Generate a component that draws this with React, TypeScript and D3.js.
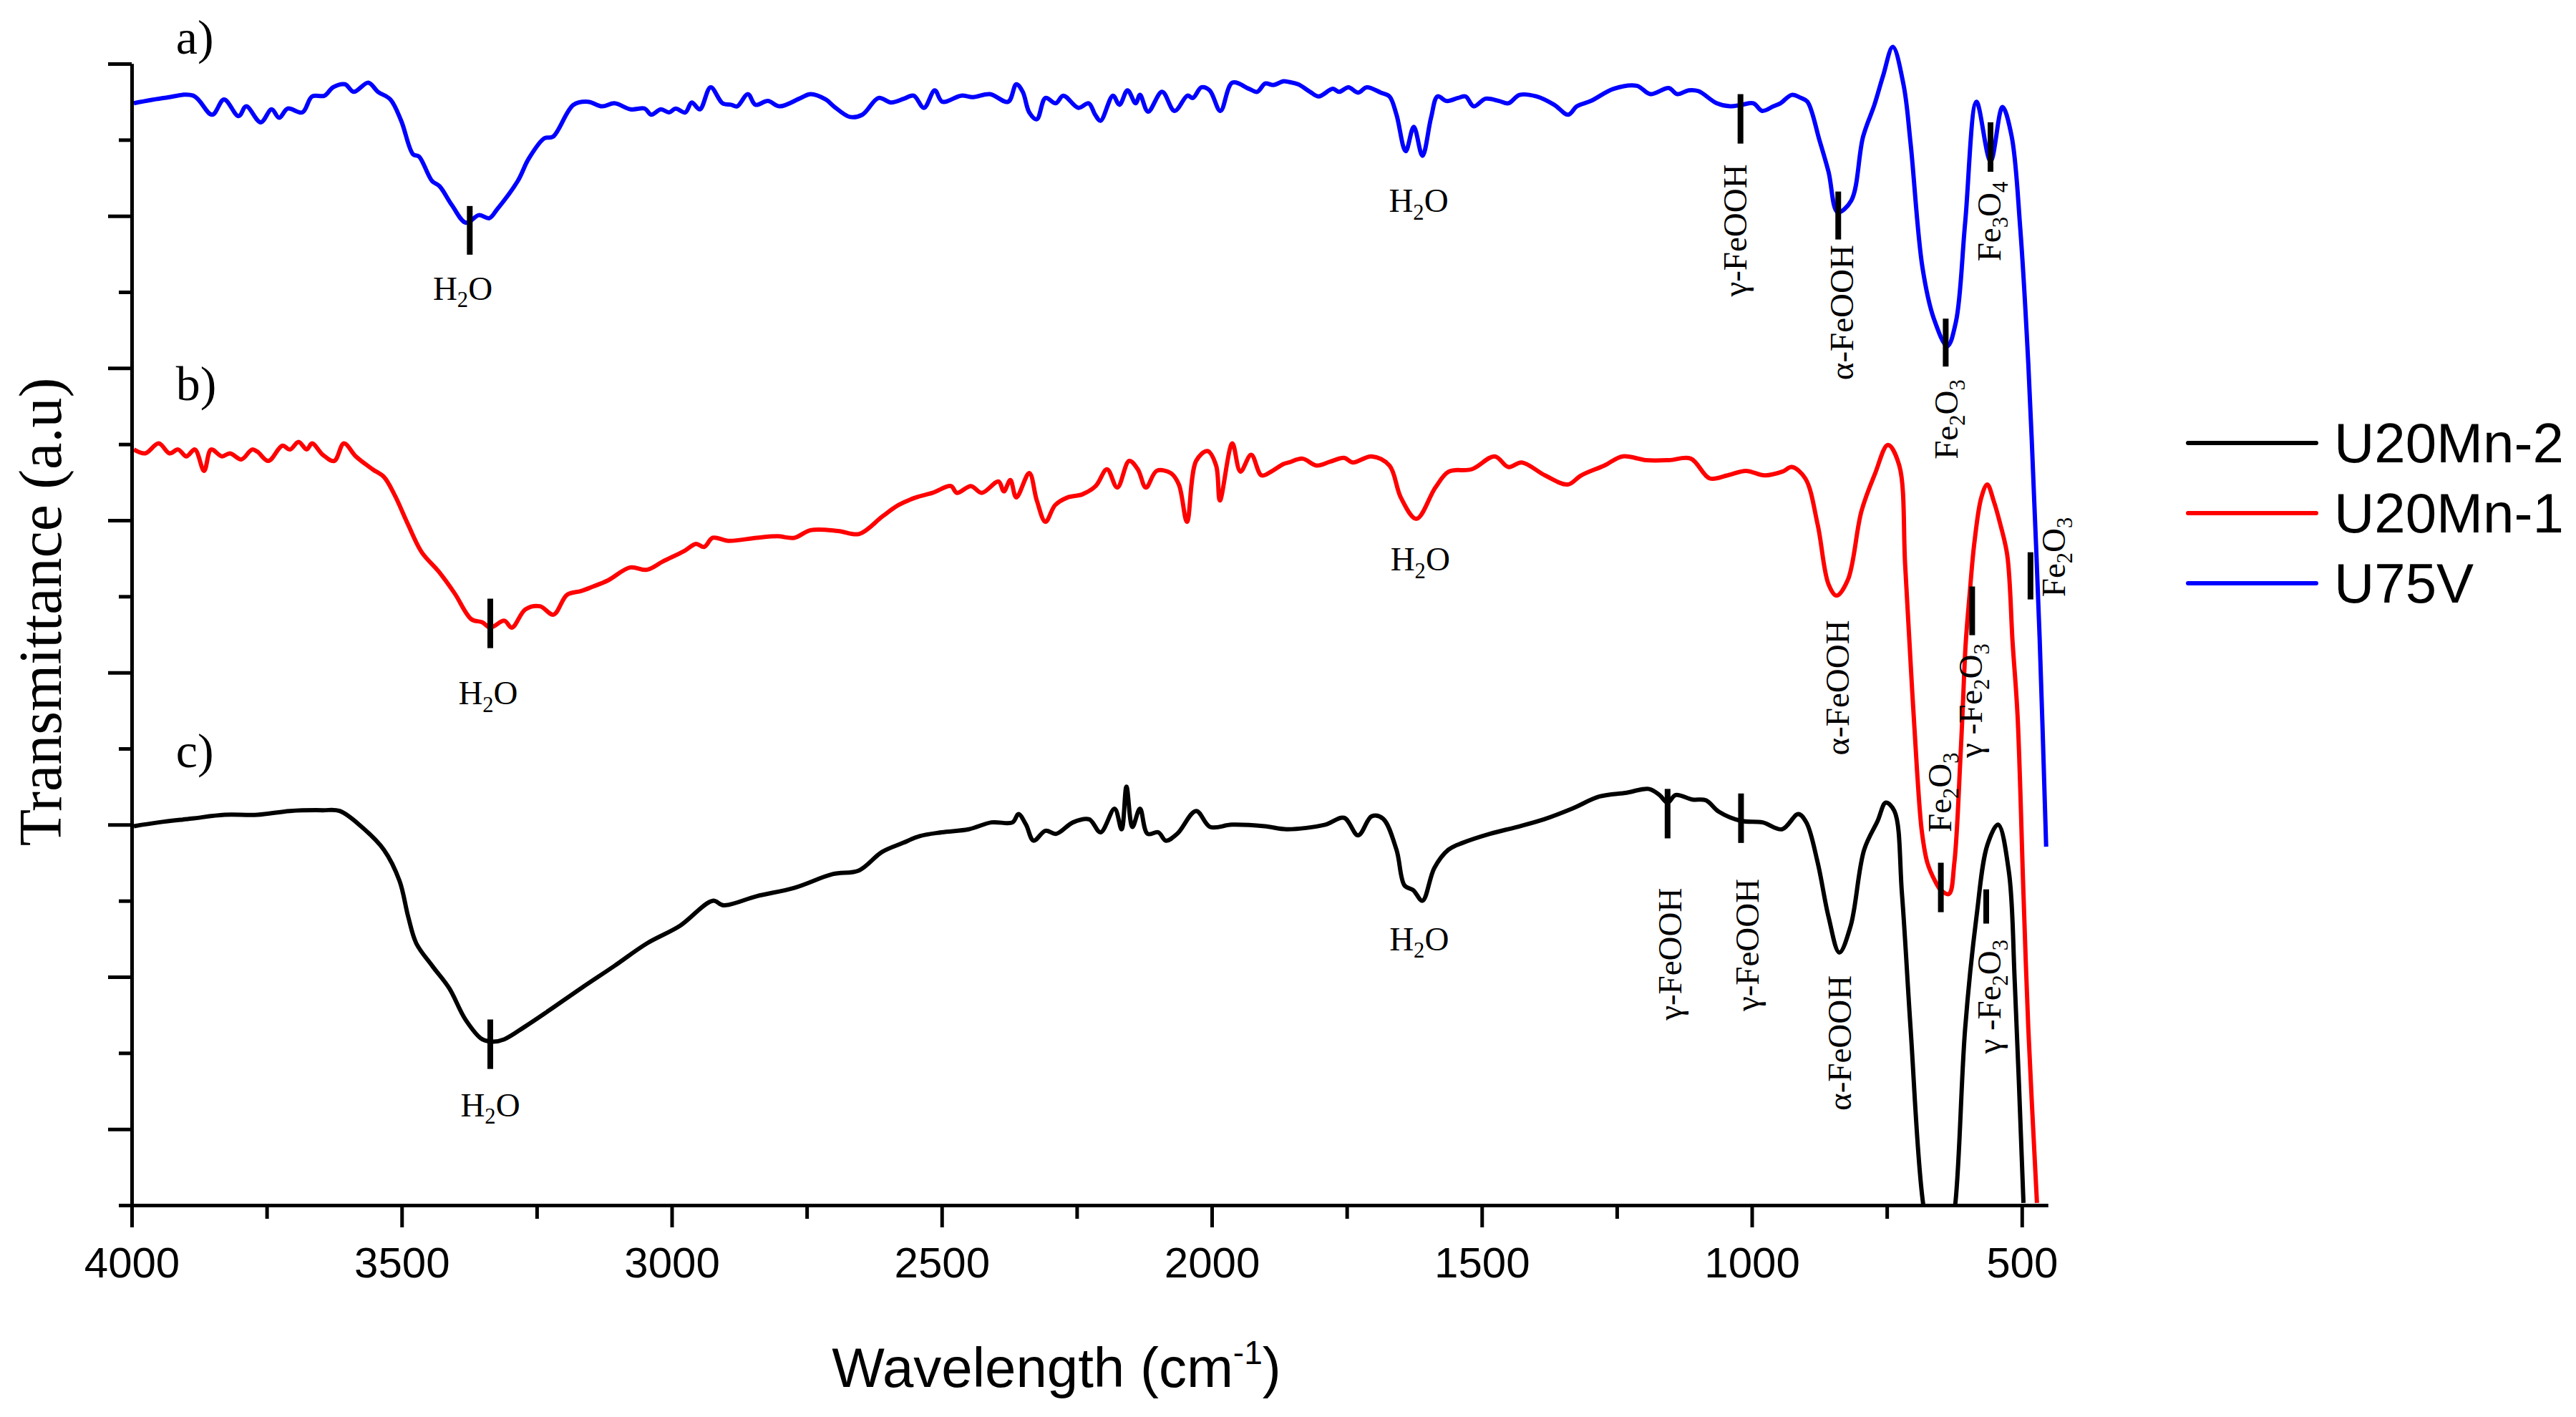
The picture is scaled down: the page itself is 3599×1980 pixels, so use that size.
import React, { useEffect, useRef } from 'react';
import * as d3 from 'd3';

// FTIR spectra, wavenumber (cm-1) vs transmittance (a.u., stacked offsets)
// a) U75V
const u75v: [number, number][] = [
  [3996, 13.48], [3939, 13.55], [3886, 13.58], [3851, 13.33], [3829, 13.53], [3802, 13.31], [3788, 13.44],
  [3761, 13.23], [3741, 13.4], [3727, 13.29], [3711, 13.41], [3684, 13.36], [3666, 13.57], [3643, 13.58],
  [3627, 13.69], [3605, 13.73], [3589, 13.63], [3562, 13.75], [3544, 13.63], [3521, 13.53], [3501, 13.25],
  [3479, 12.81], [3468, 12.78], [3444, 12.46], [3430, 12.39], [3407, 12.14], [3381, 11.91], [3357, 12.01],
  [3338, 11.97], [3324, 12.08], [3285, 12.46], [3265, 12.75], [3236, 13.02], [3220, 13.04], [3182, 13.46],
  [3155, 13.5], [3129, 13.44], [3106, 13.48], [3076, 13.4], [3050, 13.41], [3038, 13.33], [3020, 13.4],
  [3005, 13.36], [2993, 13.41], [2975, 13.36], [2963, 13.49], [2948, 13.4], [2928, 13.69], [2906, 13.48],
  [2890, 13.46], [2879, 13.44], [2859, 13.6], [2845, 13.46], [2822, 13.51], [2800, 13.44], [2761, 13.55],
  [2743, 13.6], [2715, 13.53], [2700, 13.44], [2670, 13.3], [2647, 13.33], [2617, 13.55], [2594, 13.49],
  [2570, 13.54], [2552, 13.58], [2533, 13.42], [2513, 13.65], [2499, 13.5], [2464, 13.58], [2442, 13.56],
  [2411, 13.6], [2377, 13.5], [2362, 13.73], [2350, 13.63], [2338, 13.36], [2324, 13.27], [2308, 13.55],
  [2289, 13.48], [2275, 13.58], [2247, 13.42], [2228, 13.48], [2216, 13.33], [2206, 13.25], [2183, 13.58],
  [2171, 13.46], [2156, 13.65], [2141, 13.48], [2133, 13.59], [2118, 13.37], [2092, 13.63], [2069, 13.38],
  [2045, 13.58], [2035, 13.55], [2019, 13.69], [2004, 13.65], [1984, 13.38], [1962, 13.75], [1931, 13.67],
  [1916, 13.63], [1901, 13.74], [1886, 13.72], [1867, 13.77], [1857, 13.76], [1840, 13.73], [1818, 13.63],
  [1802, 13.57], [1776, 13.67], [1764, 13.63], [1747, 13.69], [1729, 13.62], [1713, 13.69], [1687, 13.62],
  [1671, 13.57], [1658, 13.33], [1641, 12.85], [1626, 13.17], [1610, 12.79], [1594, 13.29], [1582, 13.57],
  [1565, 13.51], [1544, 13.55], [1530, 13.57], [1515, 13.44], [1493, 13.54], [1468, 13.51], [1451, 13.48],
  [1430, 13.59], [1399, 13.57], [1366, 13.46], [1340, 13.33], [1324, 13.44], [1298, 13.51], [1256, 13.67],
  [1213, 13.71], [1188, 13.6], [1154, 13.68], [1138, 13.6], [1117, 13.65], [1099, 13.64], [1065, 13.48],
  [1040, 13.44], [1019, 13.46], [997, 13.48], [981, 13.38], [960, 13.44], [947, 13.48], [926, 13.59],
  [909, 13.55], [897, 13.5], [875, 13.0], [858, 12.58], [841, 12.05], [816, 12.2], [794, 13.04],
  [773, 13.46], [757, 13.84], [739, 14.22], [719, 13.72], [706, 12.95], [684, 11.32], [663, 10.65],
  [638, 10.29], [622, 10.61], [605, 11.91], [584, 13.5], [558, 12.72], [536, 13.43], [519, 13.05],
  [503, 11.84], [488, 10.05], [477, 8.24], [467, 6.44], [455, 3.71],
];

// b) U20Mn-1
const u20mn1: [number, number][] = [
  [3996, 8.93], [3975, 8.88], [3950, 9.01], [3930, 8.88], [3914, 8.93], [3899, 8.84], [3883, 8.93],
  [3866, 8.65], [3853, 8.93], [3833, 8.84], [3818, 8.88], [3797, 8.8], [3777, 8.93], [3767, 8.9],
  [3747, 8.78], [3721, 8.98], [3707, 8.93], [3691, 9.03], [3676, 8.93], [3666, 9.01], [3646, 8.86],
  [3625, 8.78], [3607, 9.01], [3585, 8.84], [3554, 8.67], [3533, 8.57], [3513, 8.33], [3488, 7.94],
  [3463, 7.58], [3432, 7.33], [3402, 7.04], [3371, 6.7], [3351, 6.66], [3336, 6.59], [3310, 6.68],
  [3296, 6.59], [3271, 6.83], [3244, 6.87], [3219, 6.76], [3194, 7.02], [3168, 7.07], [3149, 7.12],
  [3118, 7.21], [3077, 7.38], [3046, 7.35], [3016, 7.46], [2976, 7.6], [2955, 7.69], [2940, 7.65],
  [2924, 7.77], [2895, 7.73], [2843, 7.77], [2804, 7.79], [2773, 7.77], [2743, 7.87], [2692, 7.86],
  [2653, 7.82], [2610, 8.05], [2580, 8.2], [2548, 8.3], [2517, 8.36], [2483, 8.45], [2472, 8.36],
  [2446, 8.45], [2426, 8.36], [2395, 8.51], [2385, 8.38], [2373, 8.53], [2362, 8.3], [2338, 8.62],
  [2324, 8.26], [2308, 7.98], [2290, 8.2], [2267, 8.3], [2240, 8.34], [2215, 8.45], [2194, 8.67],
  [2175, 8.43], [2153, 8.78], [2137, 8.67], [2122, 8.43], [2102, 8.65], [2076, 8.62], [2061, 8.47],
  [2046, 7.98], [2029, 8.78], [2008, 8.91], [1992, 8.72], [1985, 8.26], [1962, 9.01], [1947, 8.64],
  [1927, 8.86], [1908, 8.59], [1890, 8.64], [1867, 8.74], [1857, 8.76], [1832, 8.81], [1806, 8.72],
  [1781, 8.77], [1755, 8.82], [1739, 8.76], [1704, 8.84], [1671, 8.72], [1650, 8.3], [1621, 8.02],
  [1586, 8.43], [1561, 8.64], [1519, 8.67], [1476, 8.84], [1451, 8.7], [1426, 8.76], [1383, 8.59],
  [1341, 8.47], [1316, 8.59], [1273, 8.72], [1239, 8.84], [1196, 8.79], [1154, 8.79], [1113, 8.81],
  [1078, 8.55], [1045, 8.59], [1011, 8.65], [976, 8.59], [943, 8.64], [926, 8.7], [901, 8.55],
  [878, 7.94], [858, 7.16], [843, 7.01], [822, 7.22], [797, 8.12], [772, 8.61], [748, 8.99],
  [727, 8.72], [716, 7.4], [703, 5.75], [694, 4.7], [685, 3.9], [675, 3.5], [660, 3.25], [650, 3.14],
  [635, 3.09], [625, 3.5], [614, 4.84], [610, 5.44], [604, 6.38], [597, 7.0], [588, 7.7], [575, 8.3],
  [564, 8.47], [552, 8.25], [540, 7.95], [527, 7.54], [517, 6.38], [508, 5.44], [497, 3.09],
  [488, 1.32], [472, -0.97],
];

// c) U20Mn-2
const u20mn2: [number, number][] = [
  [3996, 3.98], [3950, 4.03], [3889, 4.08], [3828, 4.13], [3767, 4.13], [3707, 4.18], [3646, 4.19],
  [3615, 4.18], [3574, 3.97], [3533, 3.67], [3504, 3.26], [3488, 2.79], [3473, 2.44], [3443, 2.14],
  [3412, 1.85], [3382, 1.44], [3351, 1.18], [3330, 1.15], [3310, 1.18], [3271, 1.35], [3229, 1.55],
  [3168, 1.85], [3107, 2.14], [3046, 2.44], [2985, 2.67], [2924, 3.0], [2904, 2.94], [2843, 3.06],
  [2773, 3.17], [2702, 3.35], [2653, 3.4], [2611, 3.64], [2572, 3.76], [2541, 3.85], [2500, 3.9],
  [2450, 3.94], [2408, 4.03], [2369, 4.03], [2358, 4.14], [2344, 4.0], [2330, 3.79], [2308, 3.92],
  [2288, 3.88], [2257, 4.03], [2227, 4.07], [2206, 3.9], [2180, 4.21], [2167, 3.94], [2158, 4.5],
  [2147, 3.97], [2133, 4.21], [2119, 3.88], [2099, 3.9], [2085, 3.79], [2064, 3.88], [2029, 4.18],
  [2003, 3.97], [1963, 4.0], [1902, 3.98], [1861, 3.94], [1790, 4.0], [1755, 4.09], [1729, 3.86],
  [1704, 4.11], [1683, 4.08], [1658, 3.67], [1643, 3.2], [1627, 3.14], [1610, 3.0], [1588, 3.43],
  [1562, 3.67], [1536, 3.76], [1485, 3.88], [1435, 3.97], [1385, 4.07], [1333, 4.21], [1282, 4.37],
  [1232, 4.42], [1191, 4.47], [1171, 4.39], [1156, 4.29], [1141, 4.39], [1110, 4.33], [1085, 4.32],
  [1061, 4.17], [1020, 4.05], [980, 4.03], [944, 3.94], [914, 4.14], [899, 4.03], [878, 3.5],
  [858, 2.79], [838, 2.32], [817, 2.67], [792, 3.67], [767, 4.05], [752, 4.29], [736, 4.18],
  [722, 3.09], [706, 1.32], [683, -0.97], [660, -1.8], [640, -1.8], [623, -0.97], [605, 1.32],
  [584, 2.79], [564, 3.73], [544, 4.0], [524, 3.38], [513, 1.91], [497, -0.97],
];

const seriesNames = ['U20Mn-2', 'U20Mn-1', 'U75V'];
const seriesData = [u20mn2, u20mn1, u75v];
const seriesColors = ['#000000', '#ff0000', '#0000ff'];

const xMajorTicks = [4000, 3500, 3000, 2500, 2000, 1500, 1000, 500];
const xMinorTicks = [3750, 3250, 2750, 2250, 1750, 1250, 750];
const yMajorTicks = [0, 2, 4, 6, 8, 10, 12, 14];
const yMinorTicks = [-1, 1, 3, 5, 7, 9, 11, 13];

// peak markers: [wavenumber, top, bottom]
const markerBars: [number, number, number][] = [
  [3374, 12.13, 11.49], [1021, 13.6, 12.95], [840, 12.32, 11.69], [641, 10.65, 10.02],
  [558, 13.23, 12.58], [484, 7.58, 6.96],
  [3336, 6.97, 6.32], [650, 3.5, 2.85], [592, 7.13, 6.49],
  [3336, 1.44, 0.79], [1156, 4.47, 3.82], [1020, 4.41, 3.76], [566, 3.15, 2.7],
];

// horizontal band labels: [text, wavenumber, baseline]
const flatLabels: [string, number, number][] = [
  ['H2O', 3387, 10.9], ['H2O', 1617, 12.05],
  ['H2O', 3340, 5.58], ['H2O', 1614, 7.34],
  ['H2O', 3336, 0.17], ['H2O', 1616, 2.35],
];

// rotated band labels: [text, wavenumber at baseline, y, anchor]
const sideLabels: [string, number, number, string][] = [
  ['γ-FeOOH', 1010, 12.68, 'end'], ['α-FeOOH', 812, 11.62, 'end'], ['Fe2O3', 619, 9.85, 'end'],
  ['Fe3O4', 540, 12.45, 'end'], ['Fe2O3', 420, 8.04, 'end'],
  ['α-FeOOH', 820, 6.69, 'end'], ['Fe2O3', 631, 3.9, 'start'], ['γ -Fe2O3', 574, 6.38, 'end'],
  ['γ-FeOOH', 1130, 3.17, 'end'], ['γ-FeOOH', 988, 3.29, 'end'], ['α-FeOOH', 816, 2.02, 'end'],
  ['γ -Fe2O3', 540, 2.49, 'end'],
];

const panelLabels: [string, number, number][] = [
  ['a)', 3918, 14.13], ['b)', 3918, 9.58], ['c)', 3918, 4.76],
];

const SANS = 'Liberation Sans, Arial, sans-serif';
const SERIF = 'Liberation Serif, Times New Roman, serif';

// digits in chemical formulas are drawn as subscripts
function addFormula(text: any, str: string, fs: number) {
  const parts = str.split(/(\d)/).filter((s) => s.length);
  let lowered = false;
  parts.forEach((p) => {
    const t = text.append('tspan').text(p);
    if (/\d/.test(p)) {
      t.attr('font-size', fs * 0.65).attr('dy', fs * 0.22);
      lowered = true;
    } else if (lowered) {
      t.attr('dy', -fs * 0.22);
      lowered = false;
    }
  });
}

export default function App() {
  const ref = useRef<SVGSVGElement>(null);

  useEffect(() => {
    const svg = d3.select(ref.current);
    svg.selectAll('*').remove();

    const x = d3.scaleLinear().domain([4000, 452]).range([184, 2861]);
    const y = d3.scaleLinear().domain([-1, 14]).range([1684, 89]);
    const axisW = 5;

    // curves are cut off at the x axis
    svg.append('defs').append('clipPath').attr('id', 'plotClip')
      .append('rect').attr('x', 0).attr('y', 0).attr('width', 3000).attr('height', y(-1));

    const line = d3.line<[number, number]>()
      .x((d) => x(d[0]))
      .y((d) => y(d[1]))
      .curve(d3.curveCatmullRom.alpha(0.5));

    svg.append('g').attr('clip-path', 'url(#plotClip)')
      .selectAll('path')
      .data(seriesData)
      .enter()
      .append('path')
      .attr('d', (d) => line(d))
      .attr('fill', 'none')
      .attr('stroke', (d, i) => seriesColors[i])
      .attr('stroke-width', 6)
      .attr('stroke-linejoin', 'round');

    // x axis: major ticks with labels, minor ticks without
    const xAxisG = svg.append('g').attr('transform', 'translate(0,' + y(-1) + ')');
    xAxisG.call(d3.axisBottom(x).tickValues(xMajorTicks).tickSize(31).tickSizeOuter(0).tickPadding(27).tickFormat(d3.format('d')));
    xAxisG.append('g').call(d3.axisBottom(x).tickValues(xMinorTicks).tickSize(19).tickSizeOuter(0).tickFormat(() => ''));

    // y axis: no labels
    const yAxisG = svg.append('g').attr('transform', 'translate(' + x(4000) + ',0)');
    yAxisG.call(d3.axisLeft(y).tickValues(yMajorTicks).tickSize(33).tickSizeOuter(0).tickFormat(() => ''));
    yAxisG.append('g').call(d3.axisLeft(y).tickValues(yMinorTicks).tickSize(18).tickSizeOuter(0).tickFormat(() => ''));

    svg.selectAll('.domain, .tick line').attr('stroke', '#000').attr('stroke-width', axisW);
    xAxisG.selectAll('.tick text').attr('font-family', SANS).attr('font-size', 60).attr('fill', '#000');

    // peak marker bars
    svg.append('g')
      .selectAll('line')
      .data(markerBars)
      .enter()
      .append('line')
      .attr('x1', (d) => x(d[0]))
      .attr('x2', (d) => x(d[0]))
      .attr('y1', (d) => y(d[1]))
      .attr('y2', (d) => y(d[2]))
      .attr('stroke', '#000')
      .attr('stroke-width', 8);

    const annoFs = 47;
    flatLabels.forEach(([t, wn, v]) => {
      const el = svg.append('text')
        .attr('x', x(wn)).attr('y', y(v))
        .attr('text-anchor', 'middle')
        .attr('font-family', SERIF).attr('font-size', annoFs).attr('fill', '#000');
      addFormula(el, t, annoFs);
    });

    sideLabels.forEach(([t, wn, v, anchor]) => {
      const el = svg.append('text')
        .attr('transform', 'translate(' + x(wn) + ',' + y(v) + ') rotate(-90)')
        .attr('text-anchor', anchor)
        .attr('font-family', SERIF).attr('font-size', annoFs).attr('fill', '#000');
      addFormula(el, t, annoFs);
    });

    panelLabels.forEach(([t, wn, v]) => {
      svg.append('text')
        .attr('x', x(wn)).attr('y', y(v))
        .attr('font-family', SERIF).attr('font-size', 68).attr('fill', '#000')
        .text(t);
    });

    // axis titles
    svg.append('text')
      .attr('transform', 'translate(85,855) rotate(-90)')
      .attr('text-anchor', 'middle')
      .attr('font-family', SERIF).attr('font-size', 84).attr('fill', '#000')
      .text('Transmittance (a.u)');

    const xTitle = svg.append('text')
      .attr('x', 1476).attr('y', 1938)
      .attr('text-anchor', 'middle')
      .attr('font-family', SANS).attr('font-size', 78).attr('fill', '#000');
    xTitle.append('tspan').text('Wavelength (cm');
    xTitle.append('tspan').attr('font-size', 46).attr('dy', -32).text('-1');
    xTitle.append('tspan').attr('dy', 32).text(')');

    // legend
    const legend = svg.append('g');
    seriesNames.forEach((name, i) => {
      const ly = 619 + i * 98;
      legend.append('line')
        .attr('x1', 3057).attr('x2', 3236).attr('y1', ly).attr('y2', ly)
        .attr('stroke', seriesColors[i]).attr('stroke-width', 6).attr('stroke-linecap', 'round');
      legend.append('text')
        .attr('x', 3261).attr('y', ly + 27)
        .attr('font-family', SANS).attr('font-size', 78).attr('fill', '#000')
        .text(name);
    });
  }, []);

  return (
    <svg
      ref={ref}
      width={3599}
      height={1980}
      style={{ position: 'absolute', left: 0, top: 0, background: '#fff' }}
    />
  );
}
